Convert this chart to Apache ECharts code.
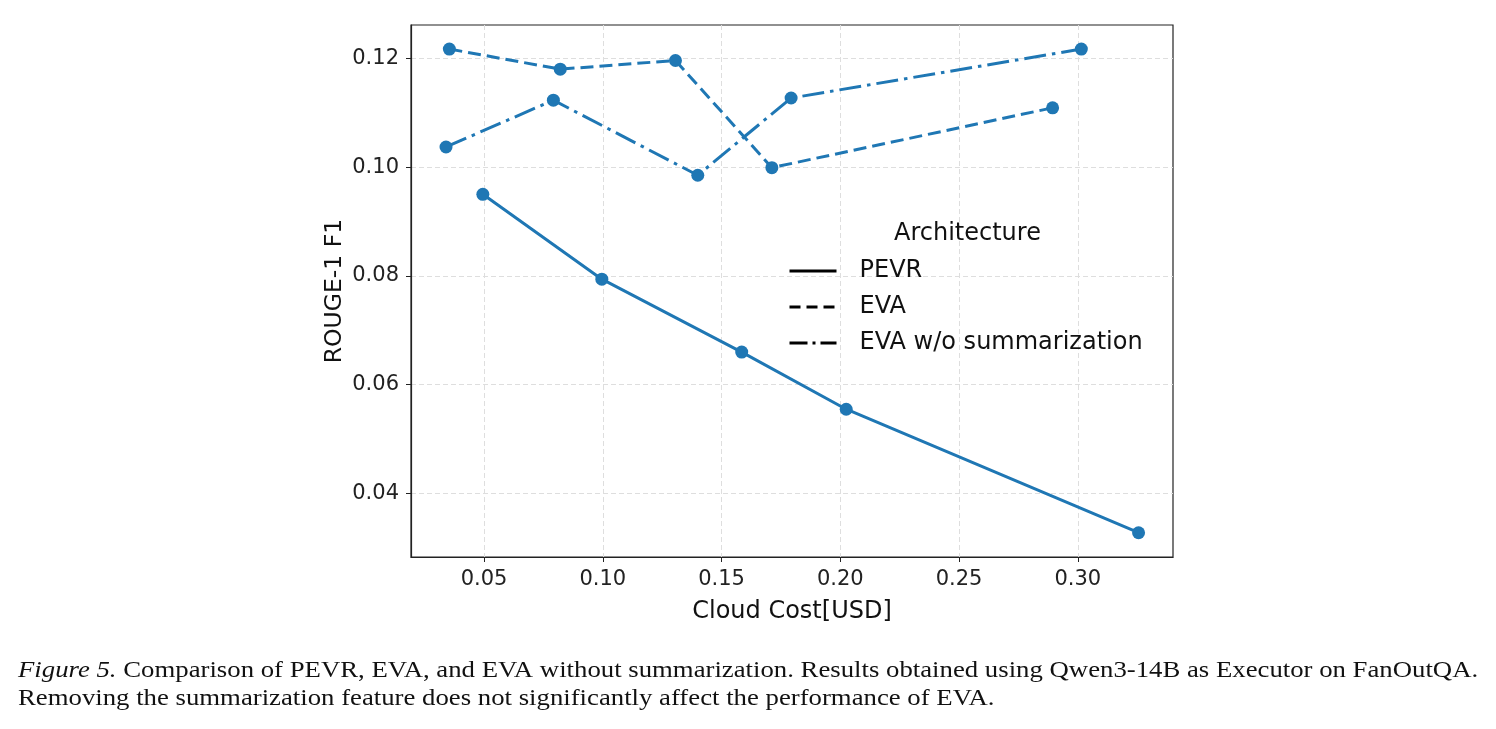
<!DOCTYPE html>
<html>
<head>
<meta charset="utf-8">
<script src="https://cdn.jsdelivr.net/npm/echarts@6/dist/echarts.min.js"></script>
<style>
  html, body { margin: 0; padding: 0; background: #fff; }
  #chart { width: 1496px; height: 729px; }
</style>
</head>
<body>
<div id="chart"></div>
<script>
// values
var pevrCost = [0.0495, 0.0996, 0.1585, 0.2025, 0.3256];
var pevrRouge = [0.0950, 0.0794, 0.0660, 0.0555, 0.0328];
var evaCost = [0.0354, 0.0821, 0.1306, 0.1712, 0.2894];
var evaRouge = [0.1217, 0.1180, 0.1196, 0.0999, 0.1109];
var noSumCost = [0.0340, 0.0792, 0.1400, 0.1793, 0.3015];
var noSumRouge = [0.1037, 0.1123, 0.0985, 0.1127, 0.1217];
var xTicks = [0.05, 0.10, 0.15, 0.20, 0.25, 0.30];
var yTicks = [0.04, 0.06, 0.08, 0.10, 0.12];

function pairs(xs, ys) {
    var out = [];
    for (var i = 0; i < xs.length; i++) {
        out.push([xs[i], ys[i]]);
    }
    return out;
}

var blue = '#1f77b4';
var font = 'DejaVu Sans';

var chart = echarts.init(document.getElementById('chart'));

var option = {
    animation: false,
    backgroundColor: '#fff',
    grid: {
        left: 411, right: 323, top: 25, bottom: 172,
        show: true, borderColor: '#222', borderWidth: 1.2
    },
    title: {
        text: 'Architecture',
        left: 894, top: 222, padding: 0,
        textStyle: { fontFamily: font, fontSize: 24, fontWeight: 'normal', color: '#111' }
    },
    legend: {
        orient: 'vertical',
        left: 788, top: 257, padding: 0,
        itemWidth: 47, itemHeight: 14, itemGap: 8,
        textStyle: { fontFamily: font, fontSize: 24, color: '#111', lineHeight: 28, padding: [0, 0, 0, 18] },
        data: [
            { name: 'PEVR', itemStyle: { opacity: 0 }, lineStyle: { color: '#000', width: 3, type: 'solid' } },
            { name: 'EVA', itemStyle: { opacity: 0 }, lineStyle: { color: '#000', width: 3, type: [11, 6] } },
            { name: 'EVA w/o summarization', itemStyle: { opacity: 0 }, lineStyle: { color: '#000', width: 3, type: [18, 5, 3, 5] } }
        ]
    },
    xAxis: {
        type: 'value',
        min: 0.01925, max: 0.3401,
        name: 'Cloud Cost[USD]',
        nameLocation: 'middle', nameGap: 43,
        nameMoveOverlap: false,
        nameTextStyle: { fontFamily: font, fontSize: 24, color: '#111' },
        axisLine: { lineStyle: { color: '#222', width: 1.2 } },
        axisTick: { show: true, length: 5, customValues: xTicks, lineStyle: { color: '#222' } },
        axisLabel: {
            customValues: xTicks, margin: 12,
            fontFamily: font, fontSize: 21, color: '#222',
            formatter: function (v) { return v.toFixed(2); }
        },
        splitLine: { show: true, lineStyle: { color: '#dedede', type: [5, 3], width: 1 } }
    },
    yAxis: {
        type: 'value',
        min: 0.02834, max: 0.12612,
        name: 'ROUGE-1 F1',
        nameLocation: 'middle', nameGap: 64,
        nameMoveOverlap: false,
        nameTextStyle: { fontFamily: font, fontSize: 23.5, color: '#111' },
        axisLine: { show: true, lineStyle: { color: '#222', width: 1.2 } },
        axisTick: { show: true, length: 5, customValues: yTicks, lineStyle: { color: '#222' } },
        axisLabel: {
            customValues: yTicks, margin: 12,
            fontFamily: font, fontSize: 21, color: '#222',
            formatter: function (v) { return v.toFixed(2); }
        },
        splitLine: { show: true, lineStyle: { color: '#dedede', type: [5, 3], width: 1 } }
    },
    series: [
        {
            name: 'PEVR', type: 'line',
            data: pairs(pevrCost, pevrRouge),
            symbol: 'circle', symbolSize: 13,
            itemStyle: { color: blue },
            lineStyle: { color: blue, width: 3, type: 'solid' }
        },
        {
            name: 'EVA', type: 'line',
            data: pairs(evaCost, evaRouge),
            symbol: 'circle', symbolSize: 13,
            itemStyle: { color: blue },
            lineStyle: { color: blue, width: 3, type: [13, 6] }
        },
        {
            name: 'EVA w/o summarization', type: 'line',
            data: pairs(noSumCost, noSumRouge),
            symbol: 'circle', symbolSize: 13,
            itemStyle: { color: blue },
            lineStyle: { color: blue, width: 3, type: [22, 6, 3.5, 6] }
        }
    ],
    graphic: [
        {
            type: 'text', left: 18, top: 657,
            scaleX: 1.163,
            style: {
                text: '{i|Figure 5.} Comparison of PEVR, EVA, and EVA without summarization. Results obtained using Qwen3-14B as Executor on FanOutQA.\nRemoving the summarization feature does not significantly affect the performance of EVA.',
                font: '23px "Liberation Serif"',
                fill: '#111',
                lineHeight: 28,
                rich: {
                    i: { fontStyle: 'italic', fontFamily: 'Liberation Serif', fontSize: 23, fill: '#111' }
                }
            }
        }
    ]
};

chart.setOption(option);
</script>
</body>
</html>
